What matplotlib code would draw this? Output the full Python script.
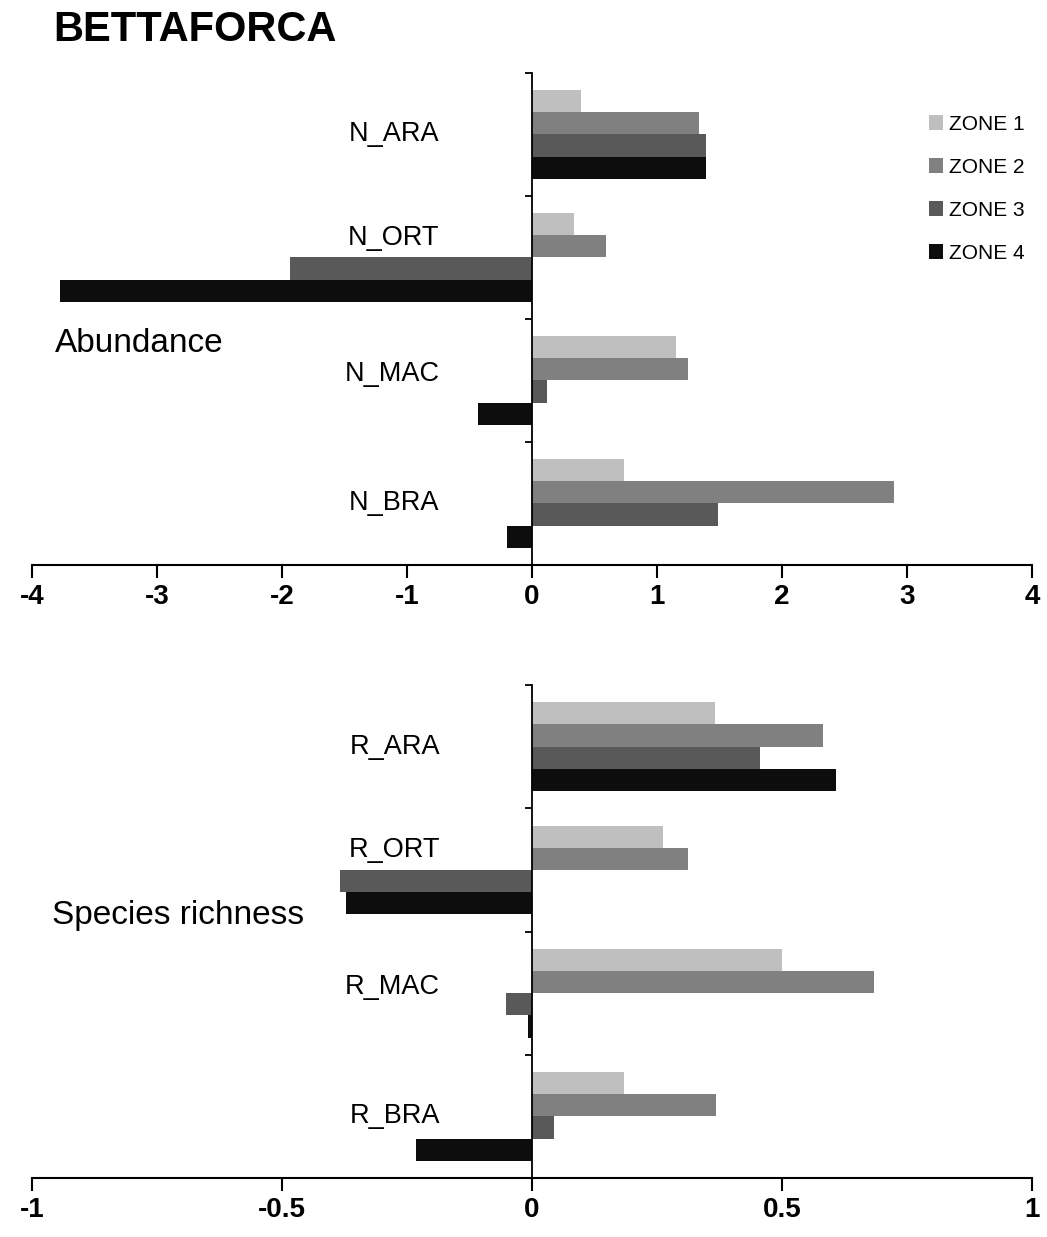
import numpy as np
import matplotlib
matplotlib.use('Agg')
import matplotlib.pyplot as plt

plt.rcParams['font.family'] = ['Liberation Sans', 'DejaVu Sans']

zones = ['ZONE 1', 'ZONE 2', 'ZONE 3', 'ZONE 4']
colors = ['#bfbfbf', '#808080', '#595959', '#0d0d0d']

# categories, top to bottom
ab_cats = ['N_ARA', 'N_ORT', 'N_MAC', 'N_BRA']
ab_vals = [[0.39, 1.34, 1.39, 1.39],      # N_ARA  zone1..4
           [0.34, 0.59, -1.94, -3.78],    # N_ORT
           [1.15, 1.25, 0.12, -0.43],     # N_MAC
           [0.74, 2.90, 1.49, -0.20]]     # N_BRA

ri_cats = ['R_ARA', 'R_ORT', 'R_MAC', 'R_BRA']
ri_vals = [[0.367, 0.583, 0.456, 0.609],
           [0.263, 0.312, -0.384, -0.372],
           [0.500, 0.685, -0.051, -0.008],
           [0.185, 0.369, 0.045, -0.232]]

# vertical position of category labels inside each band (0..1 from band bottom)
lab_off = [0.50, 0.66, 0.55, 0.50]

fig = plt.figure(figsize=(10.47, 12.37), dpi=100)
ax1 = fig.add_axes([0.0306, 0.5433, 0.955, 0.3977])
ax2 = fig.add_axes([0.0306, 0.0477, 0.955, 0.3985])

bh = 0.18

def draw(ax, cats, vals, lim, ticks, ticklabels, labx, title, titlexy):
    n = len(cats)
    for c in range(n):
        base = n - 1 - c
        for z in range(4):
            yc = base + 0.5 + (1.5 - z) * bh
            ax.barh(yc, vals[c][z], height=bh, color=colors[z],
                    edgecolor='none', label=zones[z] if c == 0 else None)
        ax.text(labx, base + lab_off[c], cats[c], ha='right', va='center',
                fontsize=19.5)
    ax.set_xlim(-lim, lim)
    ax.set_ylim(0, n)
    ax.spines['top'].set_visible(False)
    ax.spines['right'].set_visible(False)
    ax.spines['left'].set_position(('data', 0))
    ax.spines['left'].set_linewidth(1.3)
    ax.spines['bottom'].set_linewidth(1.5)
    ax.set_yticks(np.arange(0, n + 1))
    ax.set_yticklabels([])
    ax.tick_params(axis='y', direction='out', length=5, width=1.3)
    ax.set_xticks(ticks)
    ax.set_xticklabels(ticklabels, fontsize=20, fontweight='bold')
    ax.tick_params(axis='x', direction='out', length=9, width=1.5, pad=5)
    ax.text(titlexy[0], titlexy[1], title, ha='left', va='center', fontsize=24)

draw(ax1, ab_cats, ab_vals, 4, [-4, -3, -2, -1, 0, 1, 2, 3, 4],
     ['-4', '-3', '-2', '-1', '0', '1', '2', '3', '4'], -0.74,
     'Abundance', (-3.82, 1.80))
draw(ax2, ri_cats, ri_vals, 1, [-1, -0.5, 0, 0.5, 1],
     ['-1', '-0.5', '0', '0.5', '1'], -0.184,
     'Species richness', (-0.96, 2.13))

ax1.legend(loc='upper left', bbox_to_anchor=(0.879, 0.914),
           bbox_transform=fig.transFigure, frameon=False, fontsize=15,
           handlelength=0.7, handleheight=0.7, handletextpad=0.3,
           labelspacing=1.15, borderaxespad=0)

fig.text(0.0506, 1 - 30 / 1237, 'BETTAFORCA', ha='left', va='center',
         fontsize=30, fontweight='bold')

fig.savefig('out.png', dpi=100)
